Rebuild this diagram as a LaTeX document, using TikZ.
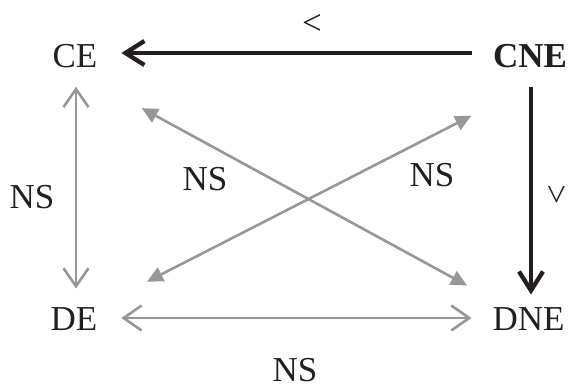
\documentclass[tikz,border=0pt]{standalone}
\usepackage{fontspec}
\setmainfont{Liberation Serif}
\usetikzlibrary{arrows.meta,calc}
\definecolor{inkblack}{RGB}{35,31,32}
\definecolor{linegray}{RGB}{150,151,153}
\tikzset{
  state/.style={inner sep=0pt, outer sep=0pt, text=inkblack, font=\fontsize{35}{40}\selectfont},
  strong/.style={draw=inkblack, line width=4.3pt, -{Straight Barb[length=19pt,width=24pt]}},
  weak/.style={draw=linegray, line width=2.6pt, {Straight Barb[length=18pt,width=25pt]}-{Straight Barb[length=18pt,width=25pt]}},
  cross/.style={draw=linegray, line width=2.6pt, {Triangle[length=16pt,width=15pt]}-{Triangle[length=16pt,width=15pt]}},
}

\begin{document}
\begin{tikzpicture}[x=1pt,y=-1pt]
	%%%%% START %%%%%
	\useasboundingbox (0,0) rectangle (571,386);
	
	\node[state] (CE) at (75,56) {CE};
	\node[state, font=\fontsize{35}{40}\selectfont\bfseries] (CNE) at (530,56) {CNE};
	\node[state] (DE) at (74,319) {DE};
	\node[state] (DNE) at (528.5,319) {DNE};
	
	\draw[strong, shorten <=21pt, shorten >=24pt] ([yshift=3pt]CNE.west) -- ([yshift=3pt]CE.east);
	\draw[strong, shorten <=19pt, shorten >=13pt] ([xshift=1pt]CNE.south) -- ([xshift=1pt]CNE.south |- DNE.north);
	
	\draw[weak, shorten <=19pt, shorten >=19pt] ([xshift=1pt]CE.south) -- ([xshift=1pt]CE.south |- DE.north);
	\draw[weak, shorten <=24pt, shorten >=21pt] ([yshift=1pt]DE.east) -- ([yshift=1pt]DNE.west);
	
	\draw[cross, shorten <=76pt, shorten >=70pt] ([yshift=-4pt]CE.south) -- (DNE.center);
	\draw[cross, shorten <=82pt, shorten >=66pt] (DE.center) -- ([yshift=-18pt]CNE.south);
	
	\node[state] (ltTop) at (312,24) {<};
	\node[state, rotate=90] (ltRight) at (558,195) {<};
	\node[state] (nsLeft) at (32,197) {NS};
	\node[state] (nsCrossL) at (205,179) {NS};
	\node[state] (nsCrossR) at (432,175) {NS};
	\node[state] (nsBottom) at (295,370.5) {NS};
	
	%%%%% END %%%%%
\end{tikzpicture}
\end{document}
